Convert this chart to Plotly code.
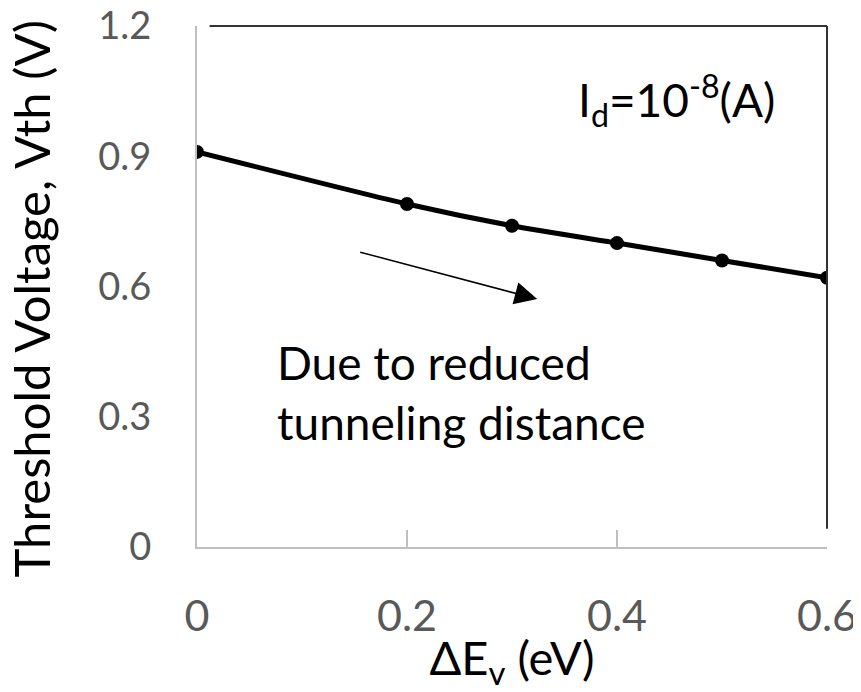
import plotly.graph_objects as go

delta_ev = [0.0, 0.2, 0.3, 0.4, 0.5, 0.6]
vth = [0.91, 0.79, 0.74, 0.70, 0.66, 0.62]
x_ticks = [0, 0.2, 0.4, 0.6]
x_tick_labels = ["0", "0.2", "0.4", "0.6"]
y_ticks = [0, 0.3, 0.6, 0.9, 1.2]
y_tick_labels = ["0", "0.3", "0.6", "0.9", "1.2"]
x_title = "ΔE<sub>v</sub> (eV)"
y_title = "Threshold Voltage, Vth (V)"

FONT = "Lato, 'Open Sans', sans-serif"

fig = go.Figure()
fig.add_trace(go.Scatter(
    x=delta_ev, y=vth, mode="lines+markers",
    line=dict(color="black", width=5, shape="spline", smoothing=0.6),
    marker=dict(color="black", size=14),
    showlegend=False,
))

fig.update_layout(
    width=853, height=684,
    margin=dict(l=189, r=34, t=18, b=145, autoexpand=False),
    paper_bgcolor="white", plot_bgcolor="white",
    font=dict(family=FONT, color="black"),
    xaxis=dict(
        range=[0, 0.6], tickvals=x_ticks, ticktext=x_tick_labels,
        showgrid=False, zeroline=False, automargin=False,
        showline=True, linecolor="#bfbfbf", linewidth=2,
        ticks="inside", ticklen=17, tickcolor="#bfbfbf", tickwidth=1.5,
        ticklabelstandoff=30, ticklabeloverflow="allow",
        tickfont=dict(size=43, color="#595959", family=FONT),
        title=dict(text=x_title, font=dict(size=47, color="black", family=FONT), standoff=0),
    ),
    yaxis=dict(
        range=[0, 1.2], tickvals=y_ticks, ticktext=y_tick_labels,
        showgrid=False, zeroline=False, automargin=False,
        showline=True, linecolor="#bfbfbf", linewidth=2,
        ticks="", ticklabelstandoff=36, ticklabeloverflow="allow",
        tickfont=dict(size=38, color="#595959", family=FONT),
    ),
)

# y-axis title placed as rotated text
fig.add_annotation(x=-0.262, y=0.477, xref="paper", yref="paper", text=y_title,
                   textangle=-90, showarrow=False, xanchor="center", yanchor="middle",
                   font=dict(size=49, color="black", family=FONT))

# top and right border of plot area
fig.add_shape(type="line", xref="paper", yref="paper", x0=0.02, x1=1, y0=1, y1=1,
              line=dict(color="#333333", width=2))
fig.add_shape(type="line", xref="paper", yref="paper", x0=1, x1=1, y0=0.035, y1=1,
              line=dict(color="#333333", width=2))

fig.add_annotation(x=0.457, y=1.03, xref="x", yref="y", text="I<sub>d</sub>=10<sup>-8</sup>(A)",
                   showarrow=False, font=dict(size=46, color="black", family=FONT))

fig.add_annotation(x=0.074, y=0.357, xref="x", yref="y",
                   text="Due to reduced<br>tunneling distance",
                   showarrow=False, xanchor="left", align="left",
                   font=dict(size=46, color="black", family=FONT))

fig.add_annotation(x=0.324, y=0.571, ax=0.154, ay=0.680, xref="x", yref="y", axref="x", ayref="y",
                   text="", showarrow=True, arrowhead=2, arrowsize=3, arrowwidth=1.5, arrowcolor="black")

fig.write_html("out.html")
